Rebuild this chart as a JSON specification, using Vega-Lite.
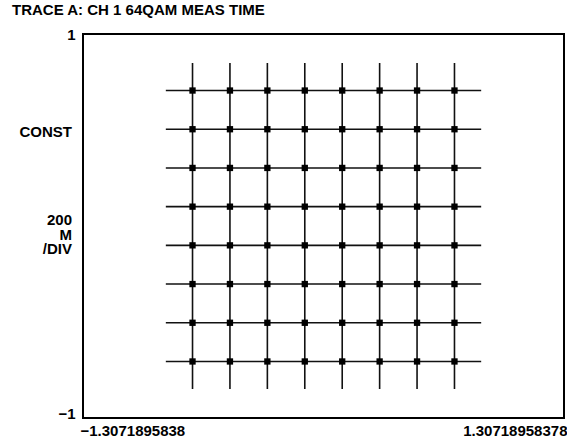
{
  "$schema": "https://vega.github.io/schema/vega-lite/v6.json",
  "autosize": "none",
  "width": 481,
  "height": 384,
  "padding": {"left": 83, "top": 34, "right": 3, "bottom": 22},
  "background": "white",
  "title": {
    "text": "TRACE A: CH 1 64QAM MEAS TIME",
    "anchor": "start",
    "frame": "group",
    "dx": -71,
    "offset": 9,
    "font": "Liberation Sans",
    "fontSize": 15,
    "fontWeight": "bold",
    "color": "#000"
  },
  "datasets": {
    "cols": [
      {"x": -0.7119}, {"x": -0.5085}, {"x": -0.3051}, {"x": -0.1017},
      {"x": 0.1017}, {"x": 0.3051}, {"x": 0.5085}, {"x": 0.7119}
    ],
    "rows": [
      {"y": 0.7056}, {"y": 0.504}, {"y": 0.3024}, {"y": 0.1008},
      {"y": -0.1008}, {"y": -0.3024}, {"y": -0.504}, {"y": -0.7056}
    ],
    "points": [
      {"i": -0.7119, "q": 0.7056}, {"i": -0.5085, "q": 0.7056}, {"i": -0.3051, "q": 0.7056}, {"i": -0.1017, "q": 0.7056},
      {"i": 0.1017, "q": 0.7056}, {"i": 0.3051, "q": 0.7056}, {"i": 0.5085, "q": 0.7056}, {"i": 0.7119, "q": 0.7056},
      {"i": -0.7119, "q": 0.504}, {"i": -0.5085, "q": 0.504}, {"i": -0.3051, "q": 0.504}, {"i": -0.1017, "q": 0.504},
      {"i": 0.1017, "q": 0.504}, {"i": 0.3051, "q": 0.504}, {"i": 0.5085, "q": 0.504}, {"i": 0.7119, "q": 0.504},
      {"i": -0.7119, "q": 0.3024}, {"i": -0.5085, "q": 0.3024}, {"i": -0.3051, "q": 0.3024}, {"i": -0.1017, "q": 0.3024},
      {"i": 0.1017, "q": 0.3024}, {"i": 0.3051, "q": 0.3024}, {"i": 0.5085, "q": 0.3024}, {"i": 0.7119, "q": 0.3024},
      {"i": -0.7119, "q": 0.1008}, {"i": -0.5085, "q": 0.1008}, {"i": -0.3051, "q": 0.1008}, {"i": -0.1017, "q": 0.1008},
      {"i": 0.1017, "q": 0.1008}, {"i": 0.3051, "q": 0.1008}, {"i": 0.5085, "q": 0.1008}, {"i": 0.7119, "q": 0.1008},
      {"i": -0.7119, "q": -0.1008}, {"i": -0.5085, "q": -0.1008}, {"i": -0.3051, "q": -0.1008}, {"i": -0.1017, "q": -0.1008},
      {"i": 0.1017, "q": -0.1008}, {"i": 0.3051, "q": -0.1008}, {"i": 0.5085, "q": -0.1008}, {"i": 0.7119, "q": -0.1008},
      {"i": -0.7119, "q": -0.3024}, {"i": -0.5085, "q": -0.3024}, {"i": -0.3051, "q": -0.3024}, {"i": -0.1017, "q": -0.3024},
      {"i": 0.1017, "q": -0.3024}, {"i": 0.3051, "q": -0.3024}, {"i": 0.5085, "q": -0.3024}, {"i": 0.7119, "q": -0.3024},
      {"i": -0.7119, "q": -0.504}, {"i": -0.5085, "q": -0.504}, {"i": -0.3051, "q": -0.504}, {"i": -0.1017, "q": -0.504},
      {"i": 0.1017, "q": -0.504}, {"i": 0.3051, "q": -0.504}, {"i": 0.5085, "q": -0.504}, {"i": 0.7119, "q": -0.504},
      {"i": -0.7119, "q": -0.7056}, {"i": -0.5085, "q": -0.7056}, {"i": -0.3051, "q": -0.7056}, {"i": -0.1017, "q": -0.7056},
      {"i": 0.1017, "q": -0.7056}, {"i": 0.3051, "q": -0.7056}, {"i": 0.5085, "q": -0.7056}, {"i": 0.7119, "q": -0.7056}
    ],
    "notes": [
      {"x": -1.3071895838, "y": 0.487, "label": "CONST"},
      {"x": -1.3071895838, "y": 0.031, "label": "200\nM\n/DIV"}
    ]
  },
  "encoding": {},
  "layer": [
    {
      "data": {"name": "cols"},
      "mark": {"type": "rule", "color": "#111", "strokeWidth": 1.6},
      "encoding": {
        "x": {
          "field": "x", "type": "quantitative",
          "scale": {"domain": [-1.3071895838, 1.30718958378], "nice": false, "zero": false},
          "axis": {
            "values": [-1.3071895838, 1.30718958378],
            "labelExpr": "datum.value < 0 ? '\u22121.3071895838' : '1.30718958378'",
            "labelFlush": true,
            "labelFlushOffset": 3,
            "title": null,
            "domain": false,
            "ticks": false,
            "grid": false,
            "labelFont": "Liberation Sans",
            "labelFontSize": 15,
            "labelFontWeight": "bold",
            "labelColor": "#000",
            "labelPadding": 5
          }
        },
        "y": {"datum": 0.849, "type": "quantitative"},
        "y2": {"datum": -0.849}
      }
    },
    {
      "data": {"name": "rows"},
      "mark": {"type": "rule", "color": "#111", "strokeWidth": 1.6},
      "encoding": {
        "y": {
          "field": "y", "type": "quantitative",
          "scale": {"domain": [-1, 1], "nice": false, "zero": false},
          "axis": {
            "values": [-1, 1],
            "labelExpr": "datum.value < 0 ? '\u22121' : '1'",
            "labelBaseline": {"condition": {"test": "datum.value < 0", "value": "alphabetic"}, "value": "middle"},
            "title": null,
            "domain": false,
            "ticks": false,
            "grid": false,
            "labelFont": "Liberation Sans",
            "labelFontSize": 15,
            "labelFontWeight": "bold",
            "labelColor": "#000",
            "labelPadding": 8
          }
        },
        "x": {"datum": -0.857, "type": "quantitative"},
        "x2": {"datum": 0.857}
      }
    },
    {
      "data": {"name": "points"},
      "mark": {"type": "point", "shape": "square", "filled": true, "color": "#000", "size": 40, "opacity": 1},
      "encoding": {
        "x": {"field": "i", "type": "quantitative"},
        "y": {"field": "q", "type": "quantitative"}
      }
    },
    {
      "data": {"name": "notes"},
      "mark": {
        "type": "text", "align": "right", "baseline": "middle", "dx": -11,
        "lineBreak": "\n", "lineHeight": 14.5,
        "font": "Liberation Sans", "fontSize": 15, "fontWeight": "bold", "color": "#000"
      },
      "encoding": {
        "x": {"field": "x", "type": "quantitative"},
        "y": {"field": "y", "type": "quantitative"},
        "text": {"field": "label"}
      }
    }
  ],
  "config": {
    "view": {"stroke": "#000", "strokeWidth": 2},
    "axis": {"labelFont": "Liberation Sans"}
  }
}
